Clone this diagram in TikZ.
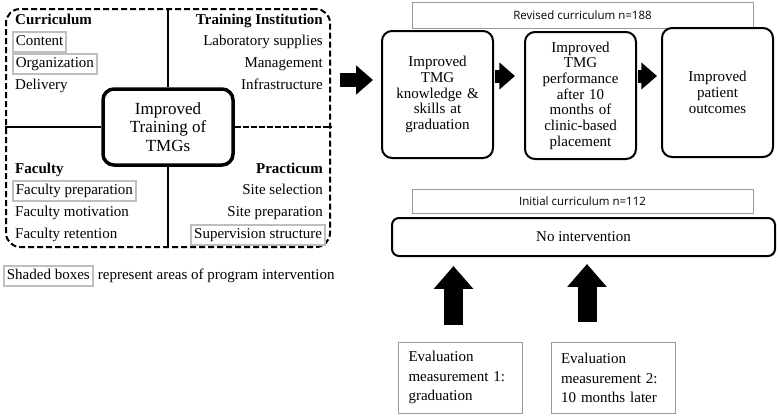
\documentclass[tikz,border=0pt]{standalone}
\usepackage{fontspec}
\setmainfont{Liberation Serif}
\newfontfamily\labelfont{Open Sans}
\usetikzlibrary{arrows.meta,positioning}

\begin{document}
\begin{tikzpicture}[x=1pt,y=-1pt,
	item/.style={inner xsep=3pt,inner ysep=3pt,text height=11pt,text depth=3.5pt,font=\fontsize{15}{16}\selectfont},
	shaded/.style={item,draw=gray!50,line width=1.8pt},
	head/.style={item,font=\fontsize{15}{16}\selectfont\bfseries},
	stepbox/.style={draw,line width=2pt,rounded corners=10pt,minimum width=111pt,text width=104pt,align=center,font=\fontsize{15}{15.7}\selectfont},
	group_box/.style={draw=gray!80,line width=0.8pt,minimum width=341pt,inner sep=0pt,font=\labelfont\fontsize{11.5}{13}\selectfont},
	eval_box/.style={draw=gray!80,line width=0.8pt,minimum height=71pt,inner xsep=10pt,text width=104pt,align=left,font=\fontsize{15}{19.5}\selectfont},
	blockarrow/.style={line width=#1,-{Triangle[length=#1*1.2,width=#1*2]}}
]
	\useasboundingbox (0,0) rectangle (778,416);

	% factors of training
	\node[draw,dash pattern=on 6pt off 3pt,line width=2pt,rounded corners=14pt,minimum width=324pt,minimum height=238pt] (factors) at (168,128) {};
	\node[draw,line width=3.5pt,rounded corners=11pt,minimum width=130pt,minimum height=76pt,align=center,font=\fontsize{17}{18.5}\selectfont] (hub) at (168,127) {Improved\\Training of\\TMGs};
	\draw[line width=1.5pt] (hub.north) -- (hub.north |- factors.north);
	\draw[line width=1.5pt] (hub.south) -- (hub.south |- factors.south);
	\draw[line width=1.5pt] (hub.west) -- (hub.west -| factors.west);
	\draw[line width=1.5pt,dash pattern=on 6pt off 2pt] (hub.east) -- (hub.east -| factors.east);

	\node[head,anchor=west] (curr) at (12,21) {Curriculum};
	\node[shaded,anchor=west] (content) at (12,42) {Content};
	\node[shaded,anchor=west] (organ) at (12,64) {Organization};
	\node[item,anchor=west] (deliv) at (12,86) {Delivery};

	\node[head,anchor=east] (inst) at (326,21) {Training Institution};
	\node[item,anchor=east] (lab) at (326,42) {Laboratory supplies};
	\node[item,anchor=east] (manag) at (326,64) {Management};
	\node[item,anchor=east] (infra) at (326,86) {Infrastructure};

	\node[head,anchor=west] (fac) at (12,170) {Faculty};
	\node[shaded,anchor=west] (facprep) at (12,191) {Faculty preparation};
	\node[item,anchor=west] (facmot) at (12,213) {Faculty motivation};
	\node[item,anchor=west] (facret) at (12,235) {Faculty retention};

	\node[head,anchor=east] (pract) at (326,170) {Practicum};
	\node[item,anchor=east] (sitesel) at (326,191) {Site selection};
	\node[item,anchor=east] (siteprep) at (326,213) {Site preparation};
	\node[shaded,anchor=east] (superv) at (326,235) {Supervision structure};

	% legend
	\node[shaded,anchor=west] (legend) at (3,276) {Shaded boxes};
	\node[item,right=1pt of legend] (legtext) {represent areas of program intervention};

	% outcomes chain
	\node[group_box,minimum height=26pt] (revised) at (582.5,15) {Revised curriculum n=188};
	\node[stepbox,minimum height=127pt] (know) at (437.5,94.5) {Improved\\TMG\\knowledge \&\\skills at\\graduation};
	\node[stepbox,minimum height=127pt] (perf) at (580.5,95.5) {Improved\\TMG\\performance\\after 10\\months of\\clinic-based\\placement};
	\node[stepbox,minimum height=129pt] (outc) at (717.5,92.5) {Improved\\patient\\outcomes};

	\coordinate (upper) at (0,80);
	\coordinate (mid) at (0,76);
	\draw[blockarrow=14pt,shorten <=9pt,shorten >=8pt] (factors.east |- upper) -- (know.west |- upper);
	\draw[blockarrow=13pt,shorten <=1pt,shorten >=9pt] (know.east |- mid) -- (perf.west |- mid);
	\draw[blockarrow=13pt,shorten <=1pt,shorten >=4pt] (perf.east |- mid) -- (outc.west |- mid);

	% comparison group
	\node[group_box,minimum height=24pt] (initial) at (582.5,201) {Initial curriculum n=112};
	\node[draw,line width=2pt,rounded corners=7pt,minimum width=383pt,minimum height=38pt,font=\fontsize{15}{16}\selectfont] (nointv) at (583.5,237) {No intervention};

	% evaluation points
	\node[eval_box,minimum width=123pt] (eval1) at (460.5,377.5) {Evaluation\\measurement 1:\\graduation};
	\node[eval_box,minimum width=124pt] (eval2) at (613,378) {Evaluation\\measurement 2:\\10 months later};
	\draw[blockarrow=19pt,shorten <=17pt,shorten >=9pt] ([xshift=-7pt]eval1.north) -- ([xshift=-7pt]eval1.north |- nointv.south);
	\draw[blockarrow=19pt,shorten <=20pt,shorten >=7pt] ([xshift=-26pt]eval2.north) -- ([xshift=-26pt]eval2.north |- nointv.south);
\end{tikzpicture}
\end{document}
